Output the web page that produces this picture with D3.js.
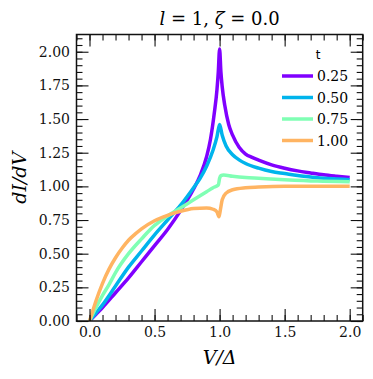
<html>
<head>
<meta charset="utf-8">
<title>dI/dV</title>
<style>
  body { margin: 0; background: #fff; }
  .tick text { font-family: "DejaVu Serif", serif; font-size: 14px; fill: #111; }
</style>
</head>
<body>
<script src="https://cdn.jsdelivr.net/npm/d3@7"></script>
<script>
var width = 373;
var height = 379;

// series: V/Delta and dI/dV
var tLabels = ["0.25", "0.50", "0.75", "1.00"];
var colors = ["#8000ff", "#00b4ec", "#80ffb4", "#ffb462"];

var v025 = [0, 0.05, 0.1, 0.2, 0.3, 0.4, 0.5, 0.6, 0.7, 0.8, 0.85, 0.9, 0.93, 0.96, 0.98, 0.99, 1.0, 1.01, 1.02, 1.04, 1.07, 1.1, 1.15, 1.2, 1.25, 1.3, 1.4, 1.5, 1.6, 1.7, 1.8, 1.9, 2.0];
var g025 = [0, 0.05, 0.10, 0.21, 0.32, 0.44, 0.56, 0.68, 0.82, 0.98, 1.08, 1.22, 1.35, 1.55, 1.72, 1.85, 2.02, 1.85, 1.74, 1.60, 1.46, 1.38, 1.29, 1.24, 1.215, 1.195, 1.16, 1.135, 1.115, 1.10, 1.086, 1.075, 1.065];

var v050 = [0, 0.05, 0.1, 0.2, 0.3, 0.4, 0.5, 0.6, 0.7, 0.8, 0.85, 0.9, 0.95, 0.98, 1.0, 1.02, 1.05, 1.1, 1.15, 1.2, 1.3, 1.4, 1.5, 1.6, 1.7, 1.8, 1.9, 2.0];
var g050 = [0, 0.06, 0.12, 0.26, 0.40, 0.52, 0.64, 0.75, 0.86, 0.99, 1.06, 1.15, 1.27, 1.37, 1.46, 1.38, 1.30, 1.235, 1.197, 1.17, 1.135, 1.11, 1.095, 1.08, 1.07, 1.06, 1.055, 1.05];

var v075 = [0, 0.05, 0.1, 0.15, 0.2, 0.3, 0.4, 0.5, 0.6, 0.7, 0.8, 0.9, 0.95, 0.99, 1.0, 1.01, 1.03, 1.1, 1.2, 1.3, 1.5, 1.75, 2.0];
var g075 = [0, 0.10, 0.19, 0.27, 0.36, 0.50, 0.61, 0.71, 0.78, 0.84, 0.90, 0.96, 0.99, 1.01, 1.06, 1.08, 1.085, 1.075, 1.065, 1.06, 1.05, 1.04, 1.035];

var v100 = [0, 0.02, 0.05, 0.1, 0.15, 0.2, 0.25, 0.3, 0.35, 0.4, 0.5, 0.6, 0.7, 0.8, 0.9, 0.95, 0.98, 0.995, 1.005, 1.02, 1.05, 1.1, 1.2, 1.3, 1.5, 1.75, 2.0];
var g100 = [0, 0.06, 0.15, 0.28, 0.385, 0.47, 0.54, 0.60, 0.645, 0.685, 0.745, 0.785, 0.815, 0.835, 0.84, 0.83, 0.81, 0.775, 0.82, 0.90, 0.95, 0.975, 0.99, 0.995, 1.0, 1.0, 1.0];

var xMajor = [0, 0.5, 1.0, 1.5, 2.0];
var yMajor = [0, 0.25, 0.5, 0.75, 1.0, 1.25, 1.5, 1.75, 2.0];

var series = [[v025, g025], [v050, g050], [v075, g075], [v100, g100]];

// plot box in pixels ("top" is taken by window.top, so use other names)
var pLeft = 76.5, pRight = 362.7, pTop = 34.5, pBottom = 321;

var svg = d3.select("body").append("svg")
    .attr("width", width)
    .attr("height", height);

var x = d3.scaleLinear().domain([-0.1, 2.1]).range([pLeft, pRight]);
var y = d3.scaleLinear().domain([0, 2.128]).range([pBottom, pTop]);

var xMinor = d3.range(-1, 22).map(function (i) { return i / 10; });
var yMinor = d3.range(0, 43).map(function (i) { return i / 20; });

var line = d3.line()
    .x(function (d) { return x(d[0]); })
    .y(function (d) { return y(d[1]); })
    .curve(d3.curveMonotoneX);

svg.append("clipPath").attr("id", "clip")
    .append("rect").attr("x", pLeft).attr("y", pTop)
    .attr("width", pRight - pLeft).attr("height", pBottom - pTop);

var plot = svg.append("g").attr("clip-path", "url(#clip)");

series.forEach(function (s, i) {
    var pts = s[0].map(function (v, j) { return [v, s[1][j]]; });
    plot.append("path")
        .attr("d", line(pts))
        .attr("fill", "none")
        .attr("stroke", colors[i])
        .attr("stroke-width", 3.5)
        .attr("stroke-linejoin", "round");
});

// axes: ticks point inward on all four sides
function addAxis(axis, tx, ty) {
    var g = svg.append("g").attr("transform", "translate(" + tx + "," + ty + ")").call(axis);
    g.select(".domain").remove();
    g.selectAll("line").attr("stroke", "#111").attr("stroke-width", 1.1);
    return g;
}

var fmt2 = d3.format(".2f"), fmt1 = d3.format(".1f");

addAxis(d3.axisBottom(x).tickValues(xMinor).tickSize(-6).tickFormat(""), 0, pBottom);
addAxis(d3.axisTop(x).tickValues(xMinor).tickSize(-6).tickFormat(""), 0, pTop);
addAxis(d3.axisLeft(y).tickValues(yMinor).tickSize(-6).tickFormat(""), pLeft, 0);
addAxis(d3.axisRight(y).tickValues(yMinor).tickSize(-6).tickFormat(""), pRight, 0);

addAxis(d3.axisBottom(x).tickValues(xMajor).tickSize(-12).tickPadding(6).tickFormat(fmt1), 0, pBottom);
addAxis(d3.axisTop(x).tickValues(xMajor).tickSize(-12).tickFormat(""), 0, pTop);
addAxis(d3.axisLeft(y).tickValues(yMajor).tickSize(-12).tickPadding(6.5).tickFormat(fmt2), pLeft, 0);
addAxis(d3.axisRight(y).tickValues(yMajor).tickSize(-12).tickFormat(""), pRight, 0);

svg.append("rect")
    .attr("x", pLeft).attr("y", pTop)
    .attr("width", pRight - pLeft).attr("height", pBottom - pTop)
    .attr("fill", "none").attr("stroke", "#111").attr("stroke-width", 1.5);

// title
var title = svg.append("text")
    .attr("x", (pLeft + pRight) / 2).attr("y", 25)
    .attr("text-anchor", "middle")
    .style("font-family", "DejaVu Serif, serif")
    .style("font-size", "18px");
title.append("tspan").style("font-style", "italic").text("l");
title.append("tspan").text(" = 1,  ");
title.append("tspan").style("font-style", "italic").text("ζ");
title.append("tspan").text(" = 0.0");

// axis labels
svg.append("text")
    .attr("x", (pLeft + pRight) / 2).attr("y", 364)
    .attr("text-anchor", "middle")
    .style("font-family", "DejaVu Serif, serif")
    .style("font-size", "19px")
    .style("font-style", "italic")
    .text("V/Δ");

svg.append("text")
    .attr("transform", "translate(26," + (pTop + pBottom) / 2 + ") rotate(-90)")
    .attr("text-anchor", "middle")
    .style("font-family", "DejaVu Serif, serif")
    .style("font-size", "19px")
    .style("font-style", "italic")
    .text("dI/dV");

// legend
var lg = svg.append("g");
lg.append("text")
    .attr("x", 318).attr("y", 59)
    .attr("text-anchor", "middle")
    .style("font-family", "DejaVu Sans, sans-serif")
    .style("font-size", "12px")
    .text("t");

tLabels.forEach(function (lab, i) {
    var yy = 76 + i * 21.5;
    lg.append("line")
        .attr("x1", 282).attr("x2", 313)
        .attr("y1", yy).attr("y2", yy)
        .attr("stroke", colors[i]).attr("stroke-width", 3.5);
    lg.append("text")
        .attr("x", 317).attr("y", yy + 5)
        .style("font-family", "DejaVu Serif, serif")
        .style("font-size", "14px")
        .text(lab);
});
</script>
</body>
</html>
